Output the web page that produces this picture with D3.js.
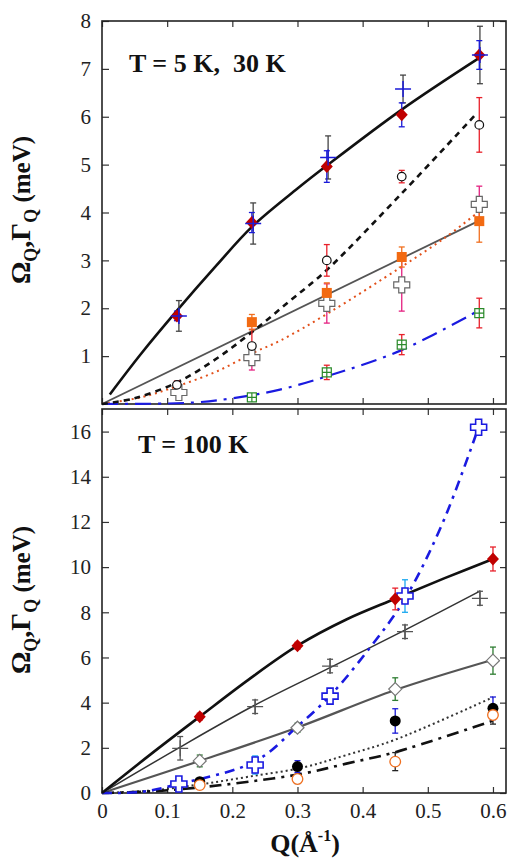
<!DOCTYPE html>
<html>
<head>
<meta charset="utf-8">
<script src="https://cdn.jsdelivr.net/npm/d3@7"></script>
<style>
    body { margin: 0; background: #fff; }
    svg { display: block; }
    .tick text { font-family: 'Liberation Serif', 'Times New Roman', serif; font-size: 21px; fill: #222; }
    .tick line { stroke: #333; stroke-width: 1.2; }
    .domain { display: none; }
    .bold { font-family: 'Liberation Serif', 'Times New Roman', serif; font-weight: bold; fill: #111; }
</style>
</head>
<body>
<svg id="chart" width="510" height="862"></svg>
<script>
// x ticks shared by both panels
var qTicks = [0, 0.1, 0.2, 0.3, 0.4, 0.5, 0.6];
var topTicks = [1, 2, 3, 4, 5, 6, 7, 8];
var bottomTicks = [0, 2, 4, 6, 8, 10, 12, 14, 16];

// ---- top panel, T = 5 K, 30 K ----
var plus5Q = [0.118, 0.232, 0.347, 0.462, 0.58];
var plus5 = [1.84, 3.77, 5.15, 6.58, 7.29];
var plus5Err = [0.32, 0.43, 0.45, 0.29, 0.6];
var diamond5Q = [0.115, 0.23, 0.345, 0.46, 0.579];
var diamond5 = [1.84, 3.79, 4.96, 6.04, 7.29];
var diamond5Err = [0.1, 0.21, 0.33, 0.25, 0.3];
var circle30Q = [0.115, 0.23, 0.345, 0.46, 0.579];
var circle30 = [0.4, 1.21, 3.0, 4.75, 5.83];
var circle30Err = [0.08, 0.35, 0.33, 0.13, 0.57];
var square30Q = [0.23, 0.345, 0.46, 0.579];
var square30 = [1.71, 2.32, 3.07, 3.82];
var square30Err = [0.16, 0.21, 0.21, 0.44];
var cross30Q = [0.118, 0.23, 0.345, 0.46, 0.579];
var cross30 = [0.24, 0.97, 2.1, 2.49, 4.17];
var cross30Err = [0.1, 0.26, 0.41, 0.55, 0.38];
var box30Q = [0.23, 0.345, 0.46, 0.579];
var box30 = [0.14, 0.66, 1.24, 1.9];
var box30Err = [0.05, 0.15, 0.21, 0.31];

// fitted curves, top
var solid5Q = [0.012, 0.06, 0.115, 0.176, 0.23, 0.3, 0.345, 0.46, 0.579];
var solid5 = [0.2, 1.05, 1.95, 2.9, 3.7, 4.5, 4.98, 6.15, 7.23];
var dashed30Q = [0, 0.05, 0.115, 0.176, 0.23, 0.288, 0.345, 0.46, 0.575];
var dashed30 = [0, 0.12, 0.45, 0.95, 1.5, 2.15, 2.8, 4.4, 6.07];
var grayTopQ = [0, 0.579];
var grayTop = [0, 3.83];
var dotted30Q = [0, 0.06, 0.115, 0.176, 0.237, 0.273, 0.35, 0.459, 0.524, 0.575];
var dotted30 = [0, 0.14, 0.37, 0.68, 1.1, 1.32, 1.92, 2.86, 3.45, 3.98];
var dashDot30Q = [0, 0.1, 0.15, 0.2, 0.273, 0.35, 0.459, 0.575];
var dashDot30 = [0, 0.01, 0.04, 0.12, 0.3, 0.6, 1.12, 1.93];

// ---- bottom panel, T = 100 K ----
var diamond100Q = [0.15, 0.3, 0.45, 0.6];
var diamond100 = [3.38, 6.52, 8.59, 10.36];
var diamond100Err = [0.15, 0.15, 0.48, 0.53];
var plus100Q = [0.12, 0.235, 0.35, 0.465, 0.58];
var plus100 = [1.98, 3.82, 5.62, 7.14, 8.62];
var plus100Err = [0.52, 0.3, 0.3, 0.3, 0.31];
var open100Q = [0.15, 0.3, 0.45, 0.6];
var open100 = [1.42, 2.89, 4.6, 5.86];
var open100Err = [0.26, 0.2, 0.5, 0.6];
var cross100Q = [0.118, 0.235, 0.35, 0.465, 0.578];
var cross100 = [0.4, 1.24, 4.29, 8.72, 16.19];
var cross100Err = [0.1, 0.4, 0.15, 0.72, 0.2];
var dot100Q = [0.15, 0.3, 0.45, 0.6];
var dot100 = [0.5, 1.17, 3.19, 3.75];
var dot100Err = [0.1, 0.26, 0.54, 0.5];
var ring100Q = [0.15, 0.3, 0.45, 0.6];
var ring100 = [0.35, 0.62, 1.39, 3.45];
var ring100Err = [0.1, 0.2, 0.4, 0.4];

// fitted curves, bottom
var solid100Q = [0, 0.075, 0.15, 0.225, 0.3, 0.375, 0.45, 0.525, 0.6];
var solid100 = [0, 1.72, 3.38, 5.02, 6.52, 7.68, 8.6, 9.5, 10.36];
var thin100Q = [0, 0.118, 0.232, 0.35, 0.464, 0.58];
var thin100 = [0, 2.0, 3.85, 5.55, 7.2, 8.94];
var gray100Q = [0, 0.15, 0.3, 0.45, 0.6];
var gray100 = [0, 1.42, 2.9, 4.56, 5.9];
var dashDot100Q = [0, 0.06, 0.118, 0.235, 0.3, 0.35, 0.413, 0.465, 0.522, 0.578];
var dashDot100 = [0, 0.05, 0.4, 1.4, 2.95, 4.3, 6.5, 8.6, 11.9, 16.2];
var dotted100Q = [0, 0.08, 0.15, 0.225, 0.307, 0.375, 0.449, 0.6];
var dotted100 = [0, 0.12, 0.38, 0.72, 1.12, 1.68, 2.35, 4.24];
var dashDotB100Q = [0, 0.08, 0.15, 0.225, 0.307, 0.375, 0.449, 0.6];
var dashDotB100 = [0, 0.08, 0.25, 0.5, 0.85, 1.3, 1.8, 3.2];

var svg = d3.select('#chart');
var left = 102, right = 506;
var x = d3.scaleLinear().domain([0, 0.62]).range([left, right]);
var yTop = d3.scaleLinear().domain([0, 8]).range([404, 21]);
var yBot = d3.scaleLinear().domain([0, 17]).range([793, 409]);

function zip(qs, vs, es) {
    return qs.map(function (q, i) { return {q: q, v: vs[i], e: es ? es[i] : 0}; });
}

function drawFrame(y, ticks, showX) {
    var g = svg.append('g');
    var y0 = y.range()[0], y1 = y.range()[1];
    g.append('g').attr('transform', 'translate(0,' + y0 + ')')
        .call(d3.axisBottom(x).tickValues(qTicks).tickSize(-6).tickPadding(10)
            .tickFormat(showX ? function (d) { return d === 0 ? '0' : d3.format('.1f')(d); } : ''));
    g.append('g').attr('transform', 'translate(0,' + y1 + ')')
        .call(d3.axisTop(x).tickValues(qTicks).tickSize(-6).tickFormat(''));
    g.append('g').attr('transform', 'translate(' + left + ',0)')
        .call(d3.axisLeft(y).tickValues(ticks).tickSize(-7).tickPadding(11));
    g.append('g').attr('transform', 'translate(' + right + ',0)')
        .call(d3.axisRight(y).tickValues(ticks).tickSize(-6).tickFormat(''));
    g.append('rect')
        .attr('x', left).attr('y', y1)
        .attr('width', right - left).attr('height', y0 - y1)
        .style('fill', 'none').style('stroke', '#222').style('stroke-width', 1.6);
}

function drawCurve(y, qs, vs, color, width, dash) {
    var line = d3.line()
        .x(function (d) { return x(d.q); })
        .y(function (d) { return y(d.v); })
        .curve(d3.curveCatmullRom.alpha(0.5));
    svg.append('path')
        .datum(zip(qs, vs))
        .attr('d', line)
        .style('fill', 'none')
        .style('stroke', color)
        .style('stroke-width', width)
        .style('stroke-dasharray', dash || null);
}

function drawErrors(y, data, color) {
    var g = svg.append('g').style('stroke', color).style('stroke-width', 1.3);
    data.forEach(function (d) {
        if (!d.e) return;
        var cx = x(d.q), t = y(d.v + d.e), b = y(d.v - d.e);
        g.append('line').attr('x1', cx).attr('x2', cx).attr('y1', t).attr('y2', b);
        g.append('line').attr('x1', cx - 3).attr('x2', cx + 3).attr('y1', t).attr('y2', t);
        g.append('line').attr('x1', cx - 3).attr('x2', cx + 3).attr('y1', b).attr('y2', b);
    });
}

// marker shapes
var shapes = {
    diamond: 'M0,-6.5L6,0L0,6.5L-6,0Z',
    openDiamond: 'M0,-6.5L6.5,0L0,6.5L-6.5,0Z',
    plus: 'M-8,0H8M0,-8V8',
    cross: 'M-3,-8H3V-3H8V3H3V8H-3V3H-8V-3H-3Z',
    square: 'M-5,-5H5V5H-5Z',
    box: 'M-4.5,-4.5H4.5V4.5H-4.5ZM-4.5,0H4.5M0,-4.5V4.5'
};

function drawMarks(y, data, shape, fill, stroke, width) {
    svg.append('g').selectAll('path')
        .data(data).enter()
        .append('path')
        .attr('transform', function (d) { return 'translate(' + x(d.q) + ',' + y(d.v) + ')'; })
        .attr('d', shapes[shape])
        .style('fill', fill)
        .style('stroke', stroke)
        .style('stroke-width', width);
}

function drawCircles(y, data, r, fill, stroke, width) {
    svg.append('g').selectAll('circle')
        .data(data).enter()
        .append('circle')
        .attr('cx', function (d) { return x(d.q); })
        .attr('cy', function (d) { return y(d.v); })
        .attr('r', r)
        .style('fill', fill)
        .style('stroke', stroke)
        .style('stroke-width', width);
}

//top panel
drawFrame(yTop, topTicks, false);
drawCurve(yTop, grayTopQ, grayTop, '#555', 1.8);
drawCurve(yTop, dotted30Q, dotted30, '#e2501a', 2, '2,4');
drawCurve(yTop, dashDot30Q, dashDot30, '#1a1ae0', 2.2, '16,7,3,7');
drawCurve(yTop, dashed30Q, dashed30, '#111', 2.6, '6,5');
drawCurve(yTop, solid5Q, solid5, '#111', 2.6);

var plus5D = zip(plus5Q, plus5, plus5Err);
var diamond5D = zip(diamond5Q, diamond5, diamond5Err);
var circle30D = zip(circle30Q, circle30, circle30Err);
var square30D = zip(square30Q, square30, square30Err);
var cross30D = zip(cross30Q, cross30, cross30Err);
var box30D = zip(box30Q, box30, box30Err);

drawErrors(yTop, plus5D, '#444');
drawErrors(yTop, diamond5D, '#1a1ad8');
drawErrors(yTop, circle30D, '#e8202a');
drawErrors(yTop, cross30D, '#e42080');
drawErrors(yTop, square30D, '#f07020');
drawErrors(yTop, box30D, '#e8202a');
drawMarks(yTop, box30D, 'box', '#fff', '#2a8a2a', 1.2);
drawMarks(yTop, cross30D, 'cross', '#fff', '#666', 1.2);
drawMarks(yTop, square30D, 'square', '#f26a12', 'none', 0);
drawCircles(yTop, circle30D, 4.3, '#fff', '#111', 1.2);
drawMarks(yTop, diamond5D, 'diamond', '#c00000', 'none', 0);
drawMarks(yTop, plus5D, 'plus', 'none', '#1a1ad8', 1.5);

svg.append('text').attr('class', 'bold')
    .attr('x', 129).attr('y', 72)
    .style('font-size', '26px').style('white-space', 'pre')
    .text('T = 5 K,  30 K');

//bottom panel
drawFrame(yBot, bottomTicks, true);
drawCurve(yBot, thin100Q, thin100, '#333', 1.5);
drawCurve(yBot, gray100Q, gray100, '#555', 2.2);
drawCurve(yBot, dotted100Q, dotted100, '#333', 2, '2,3');
drawCurve(yBot, dashDotB100Q, dashDotB100, '#111', 2.6, '12,6,3,6');
drawCurve(yBot, dashDot100Q, dashDot100, '#1a1ae0', 2.6, '10,6,3,6');
drawCurve(yBot, solid100Q, solid100, '#111', 2.6);

var diamond100D = zip(diamond100Q, diamond100, diamond100Err);
var plus100D = zip(plus100Q, plus100, plus100Err);
var open100D = zip(open100Q, open100, open100Err);
var cross100D = zip(cross100Q, cross100, cross100Err);
var dot100D = zip(dot100Q, dot100, dot100Err);
var ring100D = zip(ring100Q, ring100, ring100Err);

drawErrors(yBot, plus100D, '#555');
drawErrors(yBot, open100D, '#2e7d32');
drawErrors(yBot, dot100D, '#1a1ad8');
drawErrors(yBot, ring100D, '#222');
drawErrors(yBot, diamond100D, '#e8202a');
drawErrors(yBot, cross100D, '#1aa8f0');
drawMarks(yBot, plus100D, 'plus', 'none', '#555', 1.3);
drawMarks(yBot, open100D, 'openDiamond', '#fff', '#777', 1.2);
drawCircles(yBot, dot100D, 5.5, '#000', 'none', 0);
drawCircles(yBot, ring100D, 5.3, '#fff', '#f07020', 1.3);
drawMarks(yBot, cross100D, 'cross', '#fff', '#1a1ae0', 1.6);
drawMarks(yBot, diamond100D, 'diamond', '#c00000', 'none', 0);

svg.append('text').attr('class', 'bold')
    .attr('x', 138).attr('y', 453)
    .style('font-size', '26px')
    .text('T = 100 K');

// axis titles
function yTitle(cy) {
    var t = svg.append('text').attr('class', 'bold')
        .attr('transform', 'translate(30,' + cy + ') rotate(-90)')
        .attr('text-anchor', 'middle')
        .style('font-size', '28px');
    t.append('tspan').text('Ω');
    t.append('tspan').attr('dy', 7).style('font-size', '18px').text('Q');
    t.append('tspan').attr('dy', -7).text(',Γ');
    t.append('tspan').attr('dy', 7).style('font-size', '18px').text('Q');
    t.append('tspan').attr('dy', -7).style('font-size', '25px').text(' (meV)');
}
yTitle(210);
yTitle(600);

var xt = svg.append('text').attr('class', 'bold')
    .attr('x', 305).attr('y', 852)
    .attr('text-anchor', 'middle')
    .style('font-size', '26px');
xt.append('tspan').text('Q(Å');
xt.append('tspan').attr('dy', -11).style('font-size', '16px').text('-1');
xt.append('tspan').attr('dy', 11).text(')');
</script>
</body>
</html>
